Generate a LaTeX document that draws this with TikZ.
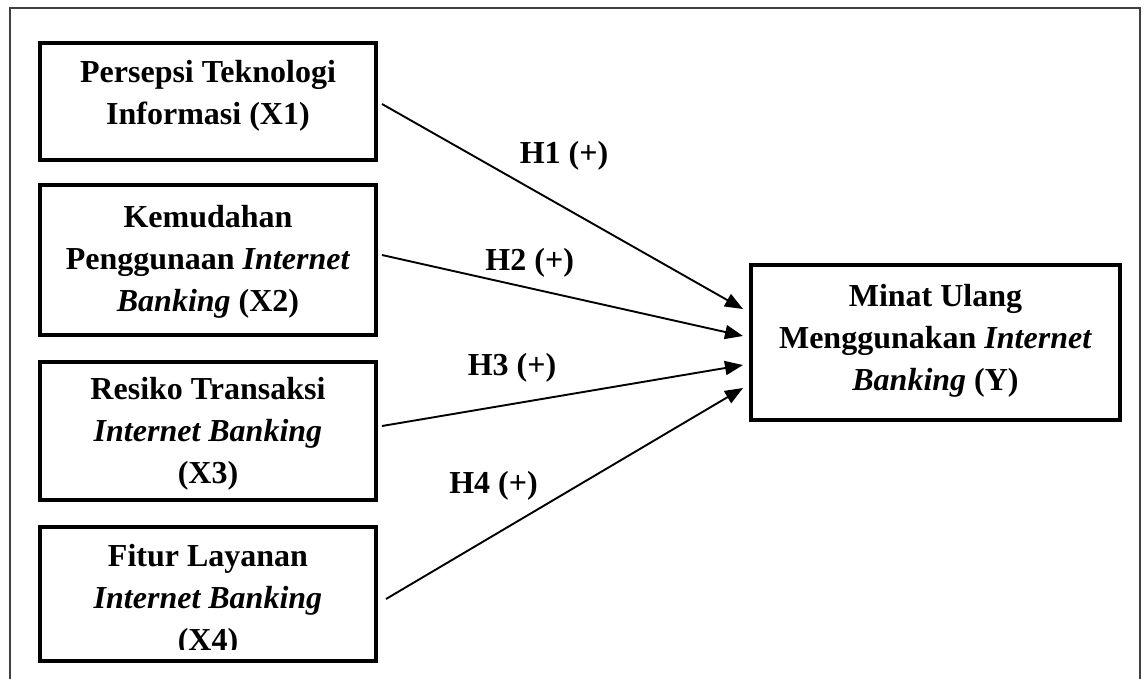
\documentclass[tikz,border=0pt]{standalone}
\usepackage{fontspec}
\setmainfont{Liberation Serif}
\usetikzlibrary{arrows.meta,calc}
\begin{document}
\begin{tikzpicture}[x=1pt,y=-1pt,
  box/.style={draw, line width=4pt, inner sep=0pt, outer sep=0pt},
  txt/.style={font=\fontsize{32}{42}\selectfont\bfseries, align=center, inner sep=0pt},
  arr/.style={line width=1.9pt, -{Triangle[length=18pt,width=14pt]}},
  lab/.style={font=\fontsize{32}{40}\selectfont\bfseries, inner sep=0pt}]
\useasboundingbox (0,0) rectangle (1144,678);
\clip (0,0) rectangle (1144,678);
% outer frame
\draw[line width=1.8pt, black!75] (10,700) -- (10,8) -- (1140,8) -- (1140,700);
% boxes
\node[box, minimum width=336pt, minimum height=117pt] (x1) at (208,101.5) {};
\node[box, minimum width=336pt, minimum height=150pt] (x2) at (208,260) {};
\node[box, minimum width=336pt, minimum height=138pt] (x3) at (208,431) {};
\node[box, minimum width=336pt, minimum height=134pt] (x4) at (208,594) {};
\node[box, minimum width=369pt, minimum height=155pt] (y) at (935.5,342.5) {};
% texts
\node[txt] (t1) at (208,96) {Persepsi Teknologi\\Informasi (X1)};
\node[txt] (t2) at (208,262) {Kemudahan\\Penggunaan \textit{Internet}\\\textit{Banking} (X2)};
\node[txt] (t3) at (208,434) {Resiko Transaksi\\\textit{Internet Banking}\\(X3)};
\begin{scope}
\clip (40,529) rectangle (376,649);
\node[txt] (t4) at (208,600.5) {Fitur Layanan\\\textit{Internet Banking}\\(X4)};
\end{scope}
\node[txt] (ty) at (935.5,341) {Minat Ulang\\Menggunakan \textit{Internet}\\\textit{Banking} (Y)};
% arrows
\draw[arr] ($(x1.east)+(6,2.5)$) -- ($(y.west)+(-8,-33.5)$);
\draw[arr] ($(x2.east)+(6,-5)$) -- ($(y.west)+(-8,-6.5)$);
\draw[arr] ($(x3.east)+(6,-5)$) -- ($(y.west)+(-8,22.5)$);
\draw[arr] ($(x4.east)+(10,5)$) -- ($(y.west)+(-8,45.5)$);
% labels
\node[lab] (h1) at (564,155.5) {H1 (+)};
\node[lab] (h2) at (529.7,263) {H2 (+)};
\node[lab] (h3) at (512,367.5) {H3 (+)};
\node[lab] (h4) at (493.5,485.5) {H4 (+)};
\end{tikzpicture}
\end{document}
